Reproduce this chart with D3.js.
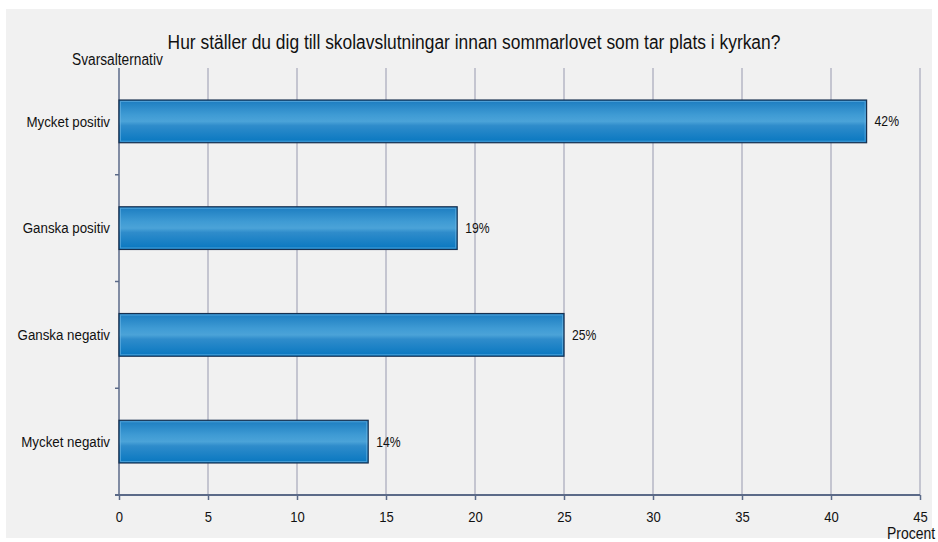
<!DOCTYPE html>
<html>
<head>
<meta charset="utf-8">
<script src="https://cdn.jsdelivr.net/npm/d3@7"></script>
<style>
  body { margin: 0; background: #fff; }
  text { font-family: "Liberation Sans", Arial, sans-serif; fill: #111; }
</style>
</head>
<body>
<div id="chart"></div>
<script>
const width = 938,
  height = 542,
  margin = { top: 68, bottom: 47, left: 119, right: 18 },
  narrow = 0.87; // the original font is a condensed Arial

// data
const categories = ["Mycket positiv", "Ganska positiv", "Ganska negativ", "Mycket negativ"];
const values = [42, 19, 25, 14];
const xTicks = [0, 5, 10, 15, 20, 25, 30, 35, 40, 45];
const title = "Hur ställer du dig till skolavslutningar innan sommarlovet som tar plats i kyrkan?";

// squeeze a text horizontally around its own x
function squeeze(sel) {
  sel.attr("transform", function() {
    const x = +this.getAttribute("x") || 0;
    return `translate(${x},0) scale(${narrow},1) translate(${-x},0)`;
  });
}

const svg = d3.select("#chart")
  .append("svg")
  .attr("width", width)
  .attr("height", height);

// bar gradient
const defs = svg.append("defs");
const grad = defs.append("linearGradient")
  .attr("id", "barGrad")
  .attr("x1", 0).attr("y1", 0).attr("x2", 0).attr("y2", 1);
[
  [0, "#1b7cc0"], [0.35, "#3f9bd4"], [0.5, "#4ba3d8"], [0.6, "#2f8ccb"], [1, "#0877c0"]
].forEach(([o, c]) => grad.append("stop").attr("offset", o).attr("stop-color", c));

// panel background
svg.append("rect")
  .attr("x", 6).attr("y", 9)
  .attr("width", 926).attr("height", 529)
  .attr("fill", "#f1f1f1");

const xScale = d3.scaleLinear()
  .domain([0, 45])
  .range([margin.left, width - margin.right]);

const yScale = d3.scaleBand()
  .domain(categories)
  .range([margin.top, height - margin.bottom])
  .paddingInner(0.6)
  .paddingOuter(0.3);

// gridlines
svg.append("g")
  .selectAll("line")
  .data(xTicks.slice(1))
  .join("line")
  .attr("x1", d => xScale(d)).attr("x2", d => xScale(d))
  .attr("y1", margin.top).attr("y2", height - margin.bottom)
  .attr("stroke", "#b4b6c4")
  .attr("stroke-width", 1.5);

// y axis
const y0 = height - margin.bottom;
svg.append("line")
  .attr("x1", xScale(0)).attr("x2", xScale(0))
  .attr("y1", margin.top).attr("y2", y0)
  .attr("stroke", "#5b6a88").attr("stroke-width", 1.5);

// band separator ticks on y axis
const step = yScale.step();
svg.append("g")
  .selectAll("line")
  .data(categories.slice(1))
  .join("line")
  .attr("x1", xScale(0) - 4).attr("x2", xScale(0))
  .attr("y1", d => yScale(d) - yScale.paddingInner() * step / 2)
  .attr("y2", d => yScale(d) - yScale.paddingInner() * step / 2)
  .attr("stroke", "#5b6a88").attr("stroke-width", 1.5);

// bars
svg.append("g")
  .selectAll("rect")
  .data(values)
  .join("rect")
  .attr("x", xScale(0))
  .attr("y", (d, i) => yScale(categories[i]))
  .attr("width", d => xScale(d) - xScale(0))
  .attr("height", yScale.bandwidth())
  .attr("fill", "url(#barGrad)")
  .attr("stroke", "#17304f")
  .attr("stroke-width", 1.2);

// inner highlight
svg.append("g")
  .selectAll("rect")
  .data(values)
  .join("rect")
  .attr("x", xScale(0) + 1.5)
  .attr("y", (d, i) => yScale(categories[i]) + 1.5)
  .attr("width", d => xScale(d) - xScale(0) - 3)
  .attr("height", yScale.bandwidth() - 3)
  .attr("fill", "none")
  .attr("stroke", "#6db6e4")
  .attr("stroke-opacity", 0.6)
  .attr("stroke-width", 1);

// value labels
svg.append("g")
  .selectAll("text")
  .data(values)
  .join("text")
  .attr("x", d => xScale(d) + 8)
  .attr("y", (d, i) => yScale(categories[i]) + yScale.bandwidth() / 2)
  .attr("dy", "0.35em")
  .attr("font-size", 14)
  .text(d => d + "%")
  .call(squeeze);

// category labels
svg.append("g")
  .selectAll("text")
  .data(categories)
  .join("text")
  .attr("x", xScale(0) - 9)
  .attr("y", d => yScale(d) + yScale.bandwidth() / 2)
  .attr("dy", "0.35em")
  .attr("text-anchor", "end")
  .attr("font-size", 15.3)
  .text(d => d)
  .call(squeeze);

// x axis
const xAxis = d3.axisBottom(xScale)
  .tickValues(xTicks)
  .tickSize(5)
  .tickSizeOuter(0);

const gx = svg.append("g")
  .attr("transform", `translate(0,${y0})`)
  .call(xAxis);
gx.select(".domain").remove();
gx.append("line")
  .attr("x1", xScale(0) - 4).attr("x2", xScale(45))
  .attr("stroke", "#5b6a88").attr("stroke-width", 2);
gx.selectAll(".tick line").attr("stroke", "#5b6a88").attr("stroke-width", 1.5);
gx.selectAll(".tick text")
  .attr("font-size", 15)
  .attr("font-family", null)
  .attr("fill", "#111")
  .attr("y", 27)
  .attr("dy", null)
  .call(squeeze);

// title & axis titles
svg.append("text")
  .attr("x", 474).attr("y", 49)
  .attr("text-anchor", "middle")
  .attr("font-size", 20)
  .text(title)
  .call(squeeze);

svg.append("text")
  .attr("x", 72).attr("y", 65)
  .attr("font-size", 15.8)
  .text("Svarsalternativ")
  .call(squeeze);

svg.append("text")
  .attr("x", 935).attr("y", 539)
  .attr("text-anchor", "end")
  .attr("font-size", 16)
  .text("Procent")
  .call(squeeze);
</script>
</body>
</html>
